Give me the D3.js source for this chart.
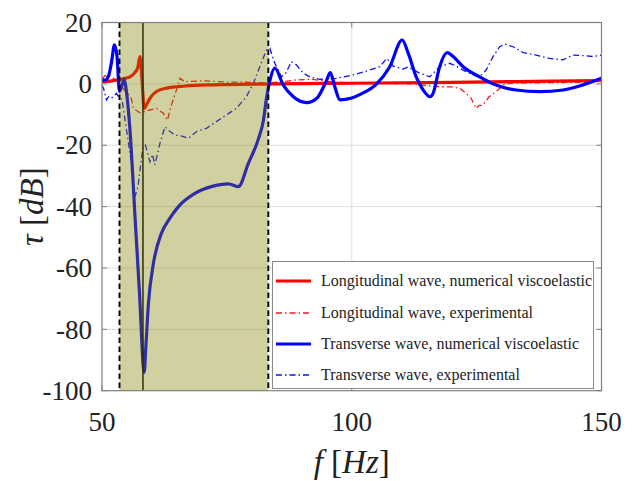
<!DOCTYPE html>
<html>
<head>
<meta charset="utf-8">
<script src="https://cdn.jsdelivr.net/npm/d3@7"></script>
<style>
  body { margin: 0; background: #fff; }
  svg { display: block; }
</style>
</head>
<body>
<div class="chart"></div>
<script>
// data
var xTicks = [50, 100, 150],
    yTicks = [-100, -80, -60, -40, -20, 0, 20];

var band = [53.5, 83.3],   // shaded band (dashed edges)
    resonance = 58.2;      // solid line inside band

var longNumF = [50, 52, 54, 55.6, 56.5, 57.2, 57.6, 58.0, 58.45, 59.0, 59.6, 60.9, 62.9, 66.6, 72, 80, 90, 100, 120, 140, 150],
    longNumV = [0.7, 1.0, 1.6, 2.3, 3.5, 5.5, 8.9, 1.5, -8, -6.5, -4.7, -2.5, -1.4, -0.7, -0.3, -0.1, 0.1, 0.2, 0.5, 0.9, 1.1];

var longExpF = [50, 50.5, 51.6, 52.5, 53.2, 53.8, 54.5, 55.3, 55.9, 56.3, 57.6, 58.6, 59.6, 60.9, 62.3, 63.1, 63.8, 64.9, 65.6, 66.6, 70, 75, 80, 83, 86, 89, 92, 96, 100, 106, 112, 114, 117, 120, 121.6, 122.9, 123.9, 124.9, 125.5, 126.2, 127.5, 128.9, 130.7, 133, 140, 145, 150],
    longExpV = [1.5, 2.5, 2.9, 1.5, 0.8, -0.5, -2, -3.5, -5, -8, -9.4, -9, -8.5, -8, -9.6, -11.8, -7.4, -2, 1.8, 0.7, 1.0, 0.6, 0.5, 0.3, 0.7, 1.3, 1.5, 0.6, 0.3, 0.2, 0, -0.4, -0.9, -1.0, -1.4, -3.1, -4.7, -8, -7, -7, -4.2, -2.5, 0, 0.3, 0.4, 0.5, 0.8];

var transNumF = [50, 50.6, 51.3, 51.9, 52.5, 53.0, 53.5, 54.0, 54.4, 55.0, 55.6, 56.6, 57.5, 58.45, 58.8, 59.3, 60.3, 61.9, 63.5, 65.3, 68.6, 71.9, 75.3, 77.3, 79.3, 81.3, 82.3, 82.9, 83.6, 84.6, 86.3, 88.3, 91, 93, 95, 95.7, 96.6, 97.6, 100, 102, 105, 107.6, 110.1, 111.3, 112.9, 114.3, 115.7, 116.3, 117.6, 119.1, 120.3, 122.3, 125.6, 128.9, 132.9, 137.6, 142.3, 145.6, 150],
    transNumV = [1.3, 1.2, 2.5, 7, 12.7, 9, -2.5, -0.5, 1.5, -4, -15, -43, -68, -94, -85, -71.5, -58.5, -48.7, -44, -40, -35.7, -33.5, -32.6, -33.5, -25.9, -18, -12, -5, 1, 5.1, -0.4, -4.2, -6.1, -4.7, 1.3, 3.7, -0.9, -5.2, -4.6, -3.2, 0, 5.6, 14.3, 10, 2.3, -2, -4.2, -3, 5.6, 10.2, 8.9, 5.6, 2.3, -0.4, -2, -2.5, -2, -0.7, 1.8];

var transExpF = [50, 50.3, 50.9, 51.4, 52, 52.9, 53.4, 54, 55, 56, 56.6, 57.2, 58.2, 58.7, 59.6, 60.1, 60.6, 61.6, 62.6, 63.6, 64.6, 66, 67.3, 68.9, 70.9, 72.9, 74.9, 76.9, 78.9, 80.3, 81.6, 82.9, 83.6, 84.6, 85.9, 86.8, 87.9, 88.9, 90.3, 91.6, 93.6, 96.9, 100.3, 103.6, 105.6, 107, 108.3, 110.3, 111.3, 113.6, 115.6, 117.6, 119.6, 120.6, 122.3, 124.3, 125.6, 126.9, 128.3, 129.6, 130.6, 132.3, 134.3, 136.9, 139.6, 142.3, 144.3, 146.3, 148.3, 150],
    transExpV = [-0.5, -1.4, -5.2, -4, -4.5, -3.1, -4.5, -5, -16, -27, -36.8, -33.5, -20.5, -20, -25.4, -23, -26.4, -19.4, -14, -15.5, -16.7, -17, -17.7, -15.6, -14.5, -12.3, -10.1, -8, -4.2, 0.2, 5.6, 11, 11.6, 6.7, 2.3, 3.5, 7.2, 6.2, 3.5, 2.3, 1.5, 1.8, 2.9, 4.5, 5.6, 8.3, 5.8, 4.8, 5.5, 3.5, 2.3, 5.6, 6.7, 6, 4.5, 2.9, 2.3, 4.5, 8.9, 12.1, 13, 12.1, 10.2, 9.4, 8.3, 7.8, 9.4, 9.2, 8.9, 9.4];

var seriesNames = ["Longitudinal wave, numerical viscoelastic", "Longitudinal wave, experimental",
                   "Transverse wave, numerical viscoelastic", "Transverse wave, experimental"];

var width = 634, height = 481,
    pLeft = 102, pRight = 601.5, pTop = 22.5, pBottom = 390.7;

var x = d3.scaleLinear().domain([50, 150]).range([pLeft, pRight]);
var y = d3.scaleLinear().domain([-100, 20]).range([pBottom, pTop]);

var svg = d3.select(".chart").append("svg")
    .attr("width", width)
    .attr("height", height)
    .style("font-family", "'Liberation Serif', serif");

svg.append("defs").append("clipPath").attr("id", "plot")
    .append("rect").attr("x", pLeft).attr("y", pTop)
    .attr("width", pRight - pLeft).attr("height", pBottom - pTop);

// grid
var grid = svg.append("g").attr("stroke", "#dedede").attr("stroke-width", 1);
grid.selectAll(".gx").data(xTicks.slice(1, -1)).enter().append("line")
    .attr("x1", d => x(d)).attr("x2", d => x(d)).attr("y1", pTop).attr("y2", pBottom);
grid.selectAll(".gy").data(yTicks.slice(1, -1)).enter().append("line")
    .attr("x1", pLeft).attr("x2", pRight).attr("y1", d => y(d)).attr("y2", d => y(d));

function series(fs, vs) {
    return fs.map((f, i) => [f, vs[i]]);
}

var smooth = d3.line().x(d => x(d[0])).y(d => y(d[1])).curve(d3.curveMonotoneX);
var straight = d3.line().x(d => x(d[0])).y(d => y(d[1]));

var lines = svg.append("g").attr("clip-path", "url(#plot)").attr("fill", "none");

lines.append("path").attr("d", straight(series(transExpF, transExpV)))
    .attr("stroke", "#1010f0").attr("stroke-width", 1.3).attr("stroke-dasharray", "6,3,1.5,3");
lines.append("path").attr("d", straight(series(longExpF, longExpV)))
    .attr("stroke", "#f01818").attr("stroke-width", 1.3).attr("stroke-dasharray", "6,3,1.5,3");
lines.append("path").attr("d", smooth(series(longNumF, longNumV)))
    .attr("stroke", "#ff0000").attr("stroke-width", 3.2);
lines.append("path").attr("d", smooth(series(transNumF, transNumV)))
    .attr("stroke", "#0000ff").attr("stroke-width", 3.2).attr("stroke-linejoin", "round");

// resonance line, under the band
svg.append("line")
    .attr("x1", x(resonance)).attr("x2", x(resonance))
    .attr("y1", pTop).attr("y2", pBottom)
    .attr("stroke", "#000").attr("stroke-width", 1.5);

// shaded band on top, semi transparent
svg.append("rect")
    .attr("x", x(band[0])).attr("y", pTop)
    .attr("width", x(band[1]) - x(band[0])).attr("height", pBottom - pTop)
    .attr("fill", "rgb(128,128,0)").attr("fill-opacity", 0.37);

svg.selectAll(".edge").data(band).enter().append("line")
    .attr("x1", d => x(d)).attr("x2", d => x(d))
    .attr("y1", pTop).attr("y2", pBottom)
    .attr("stroke", "#000").attr("stroke-width", 1.9).attr("stroke-dasharray", "5.5,3.5");

// axes box and ticks
var axisColor = "#7f7f7f";
svg.append("rect").attr("x", pLeft).attr("y", pTop)
    .attr("width", pRight - pLeft).attr("height", pBottom - pTop)
    .attr("fill", "none").attr("stroke", axisColor).attr("stroke-width", 1.2);

var ticks = svg.append("g").attr("stroke", axisColor).attr("stroke-width", 1);
xTicks.forEach(function (t) {
    ticks.append("line").attr("x1", x(t)).attr("x2", x(t)).attr("y1", pBottom).attr("y2", pBottom - 5);
    ticks.append("line").attr("x1", x(t)).attr("x2", x(t)).attr("y1", pTop).attr("y2", pTop + 5);
});
yTicks.forEach(function (t) {
    ticks.append("line").attr("x1", pLeft).attr("x2", pLeft + 5).attr("y1", y(t)).attr("y2", y(t));
    ticks.append("line").attr("x1", pRight).attr("x2", pRight - 5).attr("y1", y(t)).attr("y2", y(t));
});

svg.append("g").selectAll("text").data(xTicks).enter().append("text")
    .attr("x", d => x(d)).attr("y", pBottom + 40)
    .attr("text-anchor", "middle").attr("font-size", 27).attr("fill", "#222")
    .text(d => d);
svg.append("g").selectAll("text").data(yTicks).enter().append("text")
    .attr("x", pLeft - 10).attr("y", d => y(d)).attr("dy", "0.34em")
    .attr("text-anchor", "end").attr("font-size", 27).attr("fill", "#222")
    .text(d => d);

// axis labels
var xl = svg.append("text").attr("x", x(100)).attr("y", 473)
    .attr("text-anchor", "middle").attr("font-size", 33).attr("fill", "#222");
xl.append("tspan").attr("font-style", "italic").text("f");
xl.append("tspan").text(" [");
xl.append("tspan").attr("font-style", "italic").text("Hz");
xl.append("tspan").text("]");

var yl = svg.append("text").attr("transform", "translate(43," + ((pTop + pBottom) / 2) + ") rotate(-90)")
    .attr("text-anchor", "middle").attr("font-size", 33).attr("fill", "#222");
yl.append("tspan").attr("font-style", "italic").text("τ");
yl.append("tspan").text(" [");
yl.append("tspan").attr("font-style", "italic").text("dB");
yl.append("tspan").text("]");

// legend
var legend = svg.append("g");
legend.append("rect").attr("x", 272.5).attr("y", 261.5).attr("width", 321).attr("height", 127)
    .attr("fill", "#fff").attr("stroke", "#8a8a8a").attr("stroke-width", 1);

var legendStyle = [
    {color: "#ff0000", w: 3, dash: null},
    {color: "#f01818", w: 1.3, dash: "6,3,1.5,3"},
    {color: "#0000ff", w: 3, dash: null},
    {color: "#1010f0", w: 1.3, dash: "6,3,1.5,3"}
];
var rowY = [281, 313, 344, 375];

seriesNames.forEach(function (name, i) {
    legend.append("line").attr("x1", 276).attr("x2", 311).attr("y1", rowY[i]).attr("y2", rowY[i])
        .attr("stroke", legendStyle[i].color).attr("stroke-width", legendStyle[i].w)
        .attr("stroke-dasharray", legendStyle[i].dash);
    legend.append("text").attr("x", 321).attr("y", rowY[i]).attr("dy", "0.33em")
        .attr("font-size", 16).attr("fill", "#222").text(name);
});
</script>
</body>
</html>
